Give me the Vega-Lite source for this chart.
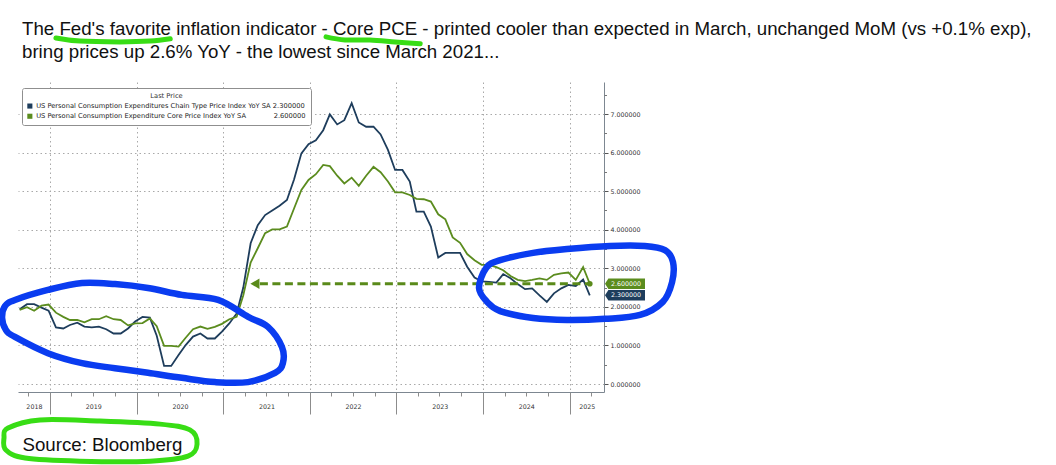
{
"$schema": "https://vega.github.io/schema/vega-lite/v6.json",
"width": 586, "height": 310,
"autosize": {"type": "none"},
"padding": {"left": 18, "top": 82, "right": 452, "bottom": 73},
"background": "#ffffff",
"config": {"view": {"stroke": null}, "font": "DejaVu Sans"},
"title": {"text": ["The Fed's favorite inflation indicator - Core PCE - printed cooler than expected in March, unchanged MoM (vs +0.1% exp),", "bring prices up 2.6% YoY - the lowest since March 2021..."], "anchor": "start", "frame": "group", "font": "Liberation Sans", "fontSize": 18.7, "fontWeight": "normal", "color": "#111111", "lineHeight": 23, "offset": -27, "dx": 4},
"datasets": {
"m": [
{"date":"2018-08-26","pce":1.94,"core":1.92},{"date":"2018-09-26","pce":2.07,"core":1.99},{"date":"2018-10-26","pce":2.07,"core":1.90},{"date":"2018-11-26","pce":1.98,"core":2.03},{"date":"2018-12-26","pce":1.90,"core":2.06},
{"date":"2019-01-26","pce":1.47,"core":1.85},{"date":"2019-02-26","pce":1.44,"core":1.74},{"date":"2019-03-26","pce":1.53,"core":1.66},{"date":"2019-04-26","pce":1.59,"core":1.66},{"date":"2019-05-26","pce":1.49,"core":1.60},{"date":"2019-06-26","pce":1.47,"core":1.68},{"date":"2019-07-26","pce":1.49,"core":1.68},{"date":"2019-08-26","pce":1.42,"core":1.76},{"date":"2019-09-26","pce":1.31,"core":1.68},{"date":"2019-10-26","pce":1.31,"core":1.66},{"date":"2019-11-26","pce":1.44,"core":1.52},{"date":"2019-12-26","pce":1.62,"core":1.57},
{"date":"2020-01-26","pce":1.74,"core":1.58},{"date":"2020-02-26","pce":1.72,"core":1.70},{"date":"2020-03-26","pce":1.25,"core":1.50},{"date":"2020-04-26","pce":0.47,"core":0.99},{"date":"2020-05-26","pce":0.47,"core":0.99},{"date":"2020-06-26","pce":0.75,"core":0.97},{"date":"2020-07-26","pce":1.01,"core":1.20},{"date":"2020-08-26","pce":1.23,"core":1.42},{"date":"2020-09-26","pce":1.31,"core":1.49},{"date":"2020-10-26","pce":1.18,"core":1.43},{"date":"2020-11-26","pce":1.18,"core":1.48},{"date":"2020-12-26","pce":1.36,"core":1.56},
{"date":"2021-01-26","pce":1.57,"core":1.68},{"date":"2021-02-26","pce":1.83,"core":1.74},{"date":"2021-03-26","pce":2.50,"core":2.30},{"date":"2021-04-26","pce":3.65,"core":3.15},{"date":"2021-05-26","pce":4.12,"core":3.52},{"date":"2021-06-26","pce":4.38,"core":3.91},{"date":"2021-07-26","pce":4.50,"core":4.01},{"date":"2021-08-26","pce":4.62,"core":4.01},{"date":"2021-09-26","pce":4.77,"core":4.08},{"date":"2021-10-26","pce":5.30,"core":4.55},{"date":"2021-11-26","pce":5.98,"core":5.03},{"date":"2021-12-26","pce":6.22,"core":5.29},
{"date":"2022-01-26","pce":6.32,"core":5.44},{"date":"2022-02-26","pce":6.58,"core":5.68},{"date":"2022-03-26","pce":6.99,"core":5.65},{"date":"2022-04-26","pce":6.73,"core":5.40},{"date":"2022-05-26","pce":6.84,"core":5.20},{"date":"2022-06-26","pce":7.28,"core":5.35},{"date":"2022-07-26","pce":6.78,"core":5.14},{"date":"2022-08-26","pce":6.67,"core":5.40},{"date":"2022-09-26","pce":6.67,"core":5.63},{"date":"2022-10-26","pce":6.47,"core":5.49},{"date":"2022-11-26","pce":6.07,"core":5.25},{"date":"2022-12-26","pce":5.55,"core":4.97},
{"date":"2023-01-26","pce":5.55,"core":4.97},{"date":"2023-02-26","pce":5.25,"core":4.90},{"date":"2023-03-26","pce":4.47,"core":4.80},{"date":"2023-04-26","pce":4.47,"core":4.79},{"date":"2023-05-26","pce":4.08,"core":4.73},{"date":"2023-06-26","pce":3.28,"core":4.40},{"date":"2023-07-26","pce":3.40,"core":4.27},{"date":"2023-08-26","pce":3.40,"core":3.80},{"date":"2023-09-26","pce":3.40,"core":3.66},{"date":"2023-10-26","pce":3.04,"core":3.37},{"date":"2023-11-26","pce":2.76,"core":3.21},{"date":"2023-12-26","pce":2.66,"core":3.09},
{"date":"2024-01-26","pce":2.65,"core":3.09},{"date":"2024-02-26","pce":2.63,"core":3.03},{"date":"2024-03-26","pce":2.85,"core":2.95},{"date":"2024-04-26","pce":2.74,"core":2.80},{"date":"2024-05-26","pce":2.59,"core":2.70},{"date":"2024-06-26","pce":2.46,"core":2.67},{"date":"2024-07-26","pce":2.48,"core":2.70},{"date":"2024-08-26","pce":2.30,"core":2.74},{"date":"2024-09-26","pce":2.13,"core":2.70},{"date":"2024-10-26","pce":2.35,"core":2.83},{"date":"2024-11-26","pce":2.48,"core":2.87},{"date":"2024-12-26","pce":2.57,"core":2.89},
{"date":"2025-01-26","pce":2.54,"core":2.70},{"date":"2025-02-26","pce":2.71,"core":3.03},{"date":"2025-03-26","pce":2.30,"core":2.60}
],
"arrow": [{"date":"2021-06-04","value":2.6},{"date":"2025-03-26","value":2.6}],
"head": [{"date":"2021-05-14","value":2.6}],
"blue": [
{"shape":"L","i":1,"date":"2018-06-13","value":1.71},{"shape":"L","i":2,"date":"2018-06-25","value":2.02},{"shape":"L","i":3,"date":"2018-08-06","value":2.18},{"shape":"L","i":4,"date":"2018-12-23","value":2.44},{"shape":"L","i":5,"date":"2019-05-16","value":2.62},{"shape":"L","i":6,"date":"2019-10-02","value":2.59},{"shape":"L","i":7,"date":"2020-02-18","value":2.49},{"shape":"L","i":8,"date":"2020-07-10","value":2.31},{"shape":"L","i":9,"date":"2020-12-10","value":2.18},{"shape":"L","i":10,"date":"2021-04-16","value":1.74},{"shape":"L","i":11,"date":"2021-07-08","value":1.48},{"shape":"L","i":12,"date":"2021-09-05","value":0.96},{"shape":"L","i":13,"date":"2021-09-09","value":0.54},{"shape":"L","i":14,"date":"2021-08-07","value":0.29},{"shape":"L","i":15,"date":"2021-04-15","value":0.05},{"shape":"L","i":16,"date":"2020-11-27","value":0.05},{"shape":"L","i":17,"date":"2020-07-10","value":0.16},{"shape":"L","i":18,"date":"2020-02-18","value":0.29},{"shape":"L","i":19,"date":"2019-10-02","value":0.41},{"shape":"L","i":20,"date":"2019-05-16","value":0.54},{"shape":"L","i":21,"date":"2018-12-23","value":0.80},{"shape":"L","i":22,"date":"2018-08-06","value":1.22},{"shape":"L","i":23,"date":"2018-06-29","value":1.40},
{"shape":"R","i":1,"date":"2023-12-15","value":2.49},{"shape":"R","i":2,"date":"2024-01-14","value":3.01},{"shape":"R","i":3,"date":"2024-03-13","value":3.21},{"shape":"R","i":4,"date":"2024-07-30","value":3.40},{"shape":"R","i":5,"date":"2024-12-20","value":3.50},{"shape":"R","i":6,"date":"2025-06-19","value":3.58},{"shape":"R","i":7,"date":"2025-11-13","value":3.58},{"shape":"R","i":8,"date":"2026-02-06","value":3.47},{"shape":"R","i":9,"date":"2026-03-12","value":3.16},{"shape":"R","i":10,"date":"2026-03-08","value":2.64},{"shape":"R","i":11,"date":"2026-01-28","value":2.13},{"shape":"R","i":12,"date":"2025-10-24","value":1.79},{"shape":"R","i":13,"date":"2025-05-29","value":1.69},{"shape":"R","i":14,"date":"2024-12-20","value":1.66},{"shape":"R","i":15,"date":"2024-07-30","value":1.71},{"shape":"R","i":16,"date":"2024-03-13","value":1.89},{"shape":"R","i":17,"date":"2024-01-18","value":2.13}
],
"ring": [
{"shape":"S","i":1,"date":"2018-07-08","value":-1.14},{"shape":"S","i":2,"date":"2018-11-20","value":-0.93},{"shape":"S","i":3,"date":"2019-07-30","value":-0.96},{"shape":"S","i":4,"date":"2020-04-09","value":-1.04},{"shape":"S","i":5,"date":"2020-08-13","value":-1.19},{"shape":"S","i":6,"date":"2020-09-12","value":-1.56},{"shape":"S","i":7,"date":"2020-08-05","value":-1.87},{"shape":"S","i":8,"date":"2020-02-27","value":-2.0},{"shape":"S","i":9,"date":"2019-05-07","value":-2.0},{"shape":"S","i":10,"date":"2018-09-18","value":-1.92},{"shape":"S","i":11,"date":"2018-06-29","value":-1.71},{"shape":"S","i":12,"date":"2018-06-21","value":-1.40}
],
"under": [
{"shape":"U1","i":1,"date":"2019-01-26","value":8.97},{"shape":"U1","i":2,"date":"2019-05-07","value":8.89},{"shape":"U1","i":3,"date":"2019-10-23","value":8.87},{"shape":"U1","i":4,"date":"2020-02-27","value":8.89},{"shape":"U1","i":5,"date":"2020-05-22","value":8.95},
{"shape":"U2","i":1,"date":"2022-03-10","value":9.0},{"shape":"U2","i":2,"date":"2022-05-29","value":8.92},{"shape":"U2","i":3,"date":"2022-09-11","value":8.92},{"shape":"U2","i":4,"date":"2022-12-26","value":8.87},{"shape":"U2","i":5,"date":"2023-04-11","value":8.82}
]
},
"layer": [
{
"data": {"name": "m"},
"transform": [{"fold": ["pce", "core"], "as": ["series", "value"]}],
"mark": {"type": "line", "strokeWidth": 1.8},
"encoding": {
"x": {"field": "date", "type": "temporal",
"scale": {"domain": [{"year": 2018, "month": 8, "date": 19}, {"year": 2025, "month": 5, "date": 25}]},
"axis": {"orient": "bottom", "tickCount": {"interval": "year", "step": 1}, "labels": false, "title": null, "grid": true, "gridDash": [1.5, 3], "gridColor": "#a9a9a9", "tickSize": 22, "tickColor": "#8c8c8c", "domain": true, "domainColor": "#7d8791"}},
"y": {"field": "value", "type": "quantitative",
"scale": {"domain": [-0.207, 7.83], "nice": false, "zero": false},
"axis": {"orient": "right", "values": [0, 1, 2, 3, 4, 5, 6, 7], "format": ".6f", "title": null, "grid": true, "gridDash": [1.5, 3], "gridColor": "#a9a9a9", "tickSize": 4, "tickColor": "#555555", "domainColor": "#7d8791", "labelFont": "DejaVu Sans", "labelFontSize": 6.3, "labelColor": "#333333", "labelPadding": 2}},
"color": {"field": "series", "type": "nominal", "scale": {"domain": ["pce", "core"], "range": ["#1e3d5c", "#5b8c1e"]},
"legend": {"orient": "none", "legendX": 4, "legendY": 6, "title": "Last Price", "titleFont": "DejaVu Sans", "titleFontSize": 6.7, "titleFontWeight": "normal", "titleColor": "#333333", "titleAnchor": "middle", "titlePadding": 3.5,
"labelFont": "DejaVu Sans", "labelFontSize": 6.7, "labelColor": "#222222", "labelLimit": 600, "symbolType": "square", "symbolSize": 26, "symbolStrokeWidth": 0, "rowPadding": 2.2, "labelOffset": 3,
"fillColor": "#ffffff", "strokeColor": "#8f8f8f", "padding": 4.5, "cornerRadius": 2,
"labelExpr": "datum.value == 'pce' ? 'US Personal Consumption Expenditures Chain Type Price Index YoY SA 2.300000' : 'US Personal Consumption Expenditure Core Price Index YoY SA\u00a0\u00a0\u00a0\u00a0\u00a0\u00a0\u00a0\u00a0\u00a0\u00a0\u00a0\u00a0\u00a02.600000'",
"encode": {"symbols": {"update": {"fill": {"scale": "color", "field": "value"}, "stroke": {"value": "transparent"}, "opacity": {"value": 1}}}}}}
}
},
{
"data": {"name": "arrow"},
"mark": {"type": "line", "color": "#5a8a1a", "strokeWidth": 3, "strokeDash": [8, 4.5]},
"encoding": {
"x": {"field": "date", "type": "temporal",
"axis": {"orient": "bottom", "values": [{"year": 2018, "month": 10, "date": 25}, {"year": 2019, "month": 7, "date": 2}, {"year": 2020, "month": 7, "date": 2}, {"year": 2021, "month": 7, "date": 2}, {"year": 2022, "month": 7, "date": 2}, {"year": 2023, "month": 7, "date": 2}, {"year": 2024, "month": 7, "date": 1}, {"year": 2025, "month": 3, "date": 13}], "format": "%Y", "ticks": false, "domain": false, "grid": false, "labelFont": "DejaVu Sans", "labelFontSize": 6.3, "labelColor": "#333333", "labelPadding": 11, "labelFlush": false, "labelOverlap": false, "labelBound": false,
"title": "Source: Bloomberg", "titleFont": "Liberation Sans", "titleFontSize": 18.7, "titleFontWeight": "normal", "titleColor": "#111111", "titleAlign": "left", "titleAnchor": "start", "titleX": 4, "titleY": 52, "titleBaseline": "middle"}},
"y": {"field": "value", "type": "quantitative", "axis": null}
}
},
{
"data": {"name": "head"},
"mark": {"type": "point", "shape": "triangle-left", "filled": true, "color": "#5a8a1a", "size": 110, "opacity": 1},
"encoding": {
"x": {"field": "date", "type": "temporal",
"axis": {"orient": "bottom", "tickCount": {"interval": "month", "step": 3}, "labels": false, "title": null, "grid": false, "domain": false, "tickSize": 4, "tickColor": "#8c8c8c"}},
"y": {"field": "value", "type": "quantitative",
"axis": {"orient": "right", "values": [0.5, 1.5, 2.5, 3.5, 4.5, 5.5, 6.5, 7.5], "labels": false, "title": null, "grid": false, "domain": false, "tickSize": 2.5, "tickColor": "#777777"}}
}
},
{
"data": {"name": "arrow"},
"transform": [{"filter": "year(datum.date) == 2025"}],
"mark": {"type": "circle", "color": "#5a8a1a", "size": 32, "opacity": 1},
"encoding": {
"x": {"field": "date", "type": "temporal", "axis": null},
"y": {"field": "value", "type": "quantitative", "axis": null}
}
},
{
"data": {"name": "m"},
"transform": [{"filter": "year(datum.date) == 2025 && month(datum.date) == 2"}, {"fold": ["pce", "core"], "as": ["series", "value"]}],
"mark": {"type": "point", "shape": "M0.05,0 L0.22,-0.26 L2.05,-0.26 L2.05,0.26 L0.22,0.26 Z", "filled": true, "size": 1600, "opacity": 1, "strokeWidth": 0},
"encoding": {
"x": {"value": "width"},
"y": {"field": "value", "type": "quantitative", "axis": null},
"color": {"field": "series", "type": "nominal"}
}
},
{
"data": {"name": "m"},
"transform": [{"filter": "year(datum.date) == 2025 && month(datum.date) == 2"}, {"fold": ["pce", "core"], "as": ["series", "value"]}],
"mark": {"type": "text", "color": "#ffffff", "font": "DejaVu Sans", "fontSize": 6.3, "align": "center", "baseline": "middle", "dx": 22},
"encoding": {
"x": {"value": "width"},
"y": {"field": "value", "type": "quantitative", "axis": null},
"text": {"field": "value", "type": "quantitative", "format": ".6f"}
}
},
{
"data": {"name": "blue"},
"mark": {"type": "line", "color": "#0a3cf0", "strokeWidth": 6.5, "interpolate": "cardinal-closed", "strokeCap": "round", "strokeJoin": "round"},
"encoding": {
"x": {"field": "date", "type": "temporal", "axis": null},
"y": {"field": "value", "type": "quantitative", "axis": null},
"detail": {"field": "shape"},
"order": {"field": "i", "type": "quantitative"}
}
},
{
"data": {"name": "ring"},
"mark": {"type": "line", "color": "#38dd15", "strokeWidth": 5, "interpolate": "cardinal-closed", "strokeCap": "round", "strokeJoin": "round"},
"encoding": {
"x": {"field": "date", "type": "temporal", "axis": null},
"y": {"field": "value", "type": "quantitative", "axis": null},
"detail": {"field": "shape"},
"order": {"field": "i", "type": "quantitative"}
}
},
{
"data": {"name": "under"},
"mark": {"type": "line", "color": "#38dd15", "strokeWidth": 5, "interpolate": "cardinal", "strokeCap": "round", "strokeJoin": "round"},
"encoding": {
"x": {"field": "date", "type": "temporal", "axis": null},
"y": {"field": "value", "type": "quantitative", "axis": null},
"detail": {"field": "shape"},
"order": {"field": "i", "type": "quantitative"}
}
}
],
"resolve": {"axis": {"x": "independent", "y": "independent"}}
}
